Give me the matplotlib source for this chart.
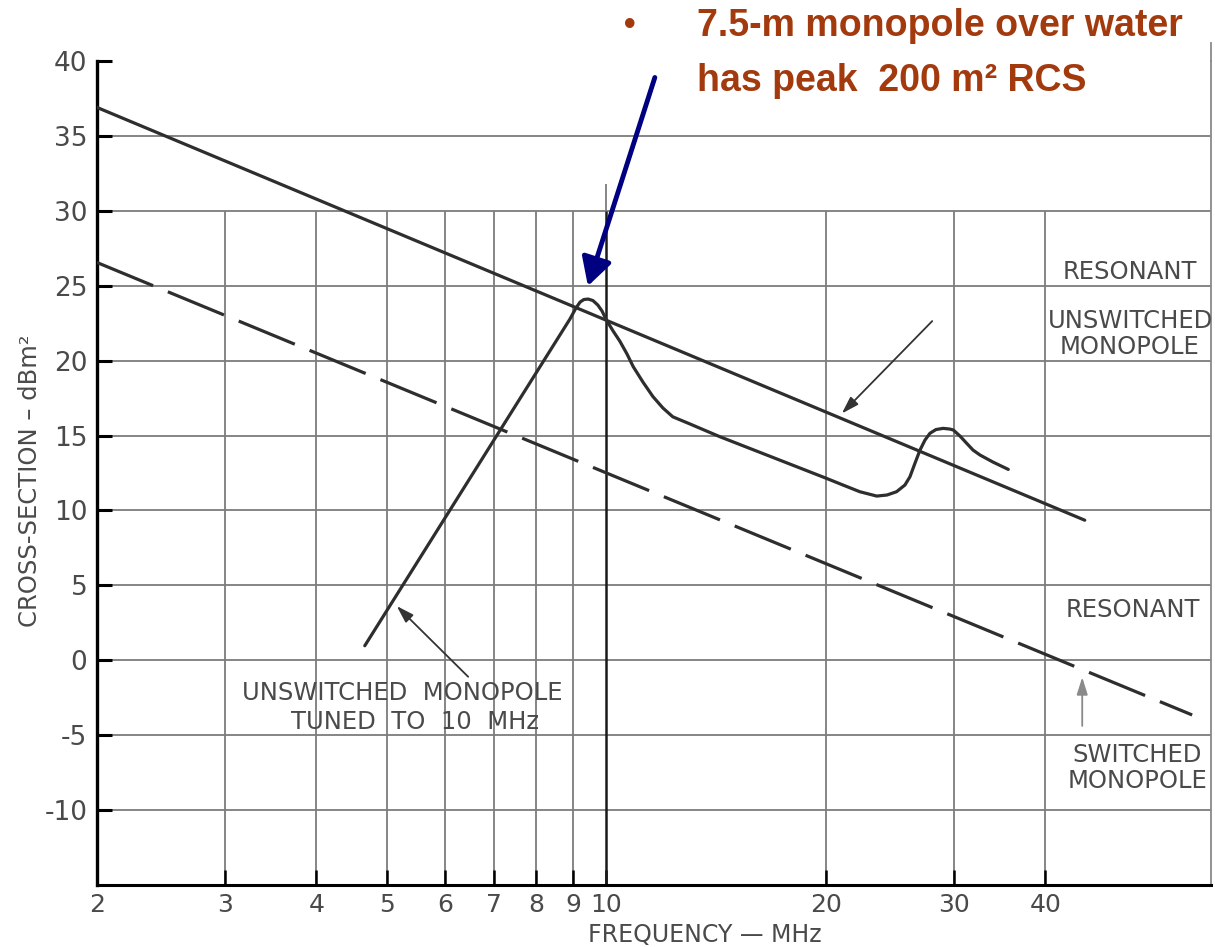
import matplotlib
matplotlib.use('Agg')
import matplotlib.pyplot as plt
from matplotlib.ticker import NullLocator, FixedLocator, FixedFormatter

# ---------------- data ----------------
freq_ticks = [2, 3, 4, 5, 6, 7, 8, 9, 10, 20, 30, 40]
freq_labels = ['2', '3', '4', '5', '6', '7', '8', '9', '10', '20', '30', '40']
rcs_ticks = [-10, -5, 0, 5, 10, 15, 20, 25, 30, 35, 40]
rcs_labels = ['-10', '-5', '0', '5', '10', '15', '20', '25', '30', '35', '40']
grid_rcs = [-10, -5, 0, 5, 10, 15, 20, 25, 30, 35]
grid_freq = [3, 4, 5, 6, 7, 8, 9, 20, 30, 40]

resonant_freq = [2.0, 45.3]
resonant_rcs = [36.9, 9.35]
switched_freq = [2.0, 63.6]
switched_rcs = [26.55, -3.65]
tuned_freq = [4.66, 8.91, 9.08, 9.2, 9.31, 9.44, 9.58, 9.73, 9.86, 10.0,
              10.21, 10.43, 10.67, 10.88, 11.22, 11.58, 11.95, 12.33, 13.02,
              14.31, 20.04, 21.1, 22.26, 23.48, 24.25, 25.0, 25.67, 26.08,
              26.5, 26.92, 27.35, 27.78, 28.31, 28.97, 29.6, 29.91, 30.54,
              31.2, 31.83, 32.54, 33.9, 35.58]
tuned_rcs = [0.97, 22.78, 23.51, 23.91, 24.08, 24.11, 24.01, 23.71, 23.31, 22.7,
             21.98, 21.3, 20.44, 19.6, 18.57, 17.6, 16.84, 16.25, 15.77,
             14.92, 12.14, 11.70, 11.25, 10.96, 11.03, 11.25, 11.70, 12.25,
             13.16, 14.03, 14.70, 15.15, 15.40, 15.48, 15.43, 15.37, 14.97,
             14.48, 14.03, 13.7, 13.23, 12.74]
marker_freq = 10
marker_top = 31.8

xmin, xmax = 2.0, 67.5
ymin, ymax = -15, 40

# ---------------- figure ----------------
W, H = 1215, 947
fig = plt.figure(figsize=(W / 100, H / 100), dpi=100)
fig.patch.set_facecolor('white')
L, R, B, T = 97, 1211, 885, 61
ax = fig.add_axes([L / W, 1 - B / H, (R - L) / W, (B - T) / H])
ax.set_xscale('log')
ax.set_xlim(xmin, xmax)
ax.set_ylim(ymin, ymax)

gcol = '#7c7c7c'
ax.hlines(grid_rcs, xmin, xmax, colors=gcol, lw=1.3, zorder=1)
ax.vlines(grid_freq, ymin, 30, colors=gcol, lw=1.3, zorder=1)
ax.vlines([marker_freq], 30, marker_top, colors=gcol, lw=1.3, zorder=1)
ax.vlines([marker_freq], ymin, 30, colors='#1a1a1a', lw=1.8, zorder=2)

lcol = '#2e2e2e'
ax.plot(resonant_freq, resonant_rcs, color=lcol, lw=2.3, solid_capstyle='round', zorder=3)
ax.plot(switched_freq, switched_rcs, color=lcol, lw=2.3, dashes=(19, 5), zorder=3)
ax.plot(tuned_freq, tuned_rcs, color=lcol, lw=2.3, solid_capstyle='round',
        solid_joinstyle='round', zorder=3)

# spines & ticks
ax.spines['top'].set_visible(False)
ax.spines['right'].set_color('#8a8a8a')
ax.spines['right'].set_linewidth(1.3)
ax.spines['left'].set_linewidth(2.4)
ax.spines['bottom'].set_linewidth(2.2)
ax.plot([xmax, xmax], [ymax, 41.2], color='#8a8a8a', lw=1.3, clip_on=False)

ax.xaxis.set_major_locator(FixedLocator(freq_ticks))
ax.xaxis.set_major_formatter(FixedFormatter(freq_labels))
ax.xaxis.set_minor_locator(NullLocator())
ax.yaxis.set_major_locator(FixedLocator(rcs_ticks))
ax.yaxis.set_major_formatter(FixedFormatter(rcs_labels))
tcol = '#4a4a4a'
ax.tick_params(axis='y', direction='in', length=11, width=2.2, pad=7,
               labelsize=19, labelcolor=tcol)
ax.tick_params(axis='x', direction='in', length=11, width=1.8, pad=6,
               labelsize=18, labelcolor=tcol)

# axis labels
fig.text(30 / W, 1 - 481 / H, 'CROSS-SECTION – dBm²', rotation=90,
         ha='center', va='center', fontsize=17.5, color=tcol)
fig.text(705 / W, 1 - 935 / H, 'FREQUENCY — MHz', ha='center', va='center',
         fontsize=17, color=tcol)

def axpos(px, py):
    return ((px - L) / (R - L), (B - py) / (B - T))

def atext(px, py, s, **kw):
    x, y = axpos(px, py)
    ax.text(x, y, s, transform=ax.transAxes, ha='center', va='center',
            fontsize=17.5, color=tcol, **kw)

atext(1130, 272, 'RESONANT')
atext(1130, 334, 'UNSWITCHED\nMONOPOLE', linespacing=1.1)
atext(1133, 610, 'RESONANT')
atext(1137, 768, 'SWITCHED\nMONOPOLE', linespacing=1.1)
atext(402, 693, 'UNSWITCHED  MONOPOLE')
atext(415, 722, 'TUNED  TO  10  MHz')

# small black arrows
sprops = dict(arrowstyle='-|>,head_length=0.7,head_width=0.22', mutation_scale=15,
              lw=1.3, color='#333333', shrinkA=0, shrinkB=0)
ax.annotate('', xy=(21.03, 16.47), xytext=(27.98, 22.64), arrowprops=sprops,
            annotation_clip=False)
ax.annotate('', xy=(5.155, 3.62), xytext=(6.46, -1.10), arrowprops=sprops,
            annotation_clip=False)
gprops = dict(sprops)
gprops['color'] = '#8a8a8a'
ax.annotate('', xy=(44.94, -1.13), xytext=(44.94, -4.38), arrowprops=gprops,
            annotation_clip=False)

# blue annotation arrow
ax.annotate('', xy=(9.43, 24.98), xytext=(11.65, 38.9),
            arrowprops=dict(arrowstyle='-|>,head_length=1.2,head_width=0.66',
                            mutation_scale=14, lw=3.5, color='#000080',
                            shrinkA=0, shrinkB=0),
            annotation_clip=False)

# red headline
rcol = '#A33A0E'
fig.text(630 / W, 1 - 26 / H, '•', ha='center', va='center', fontsize=24,
         color=rcol, family='Liberation Sans', weight='bold')
fig.text(697 / W, 1 - 26 / H, '7.5-m monopole over water', ha='left', va='center',
         fontsize=27, color=rcol, family='Liberation Sans', weight='bold')
fig.text(697 / W, 1 - 81 / H, 'has peak  200 m² RCS', ha='left', va='center',
         fontsize=27, color=rcol, family='Liberation Sans', weight='bold')

fig.savefig('out.png', dpi=100, facecolor='white')
